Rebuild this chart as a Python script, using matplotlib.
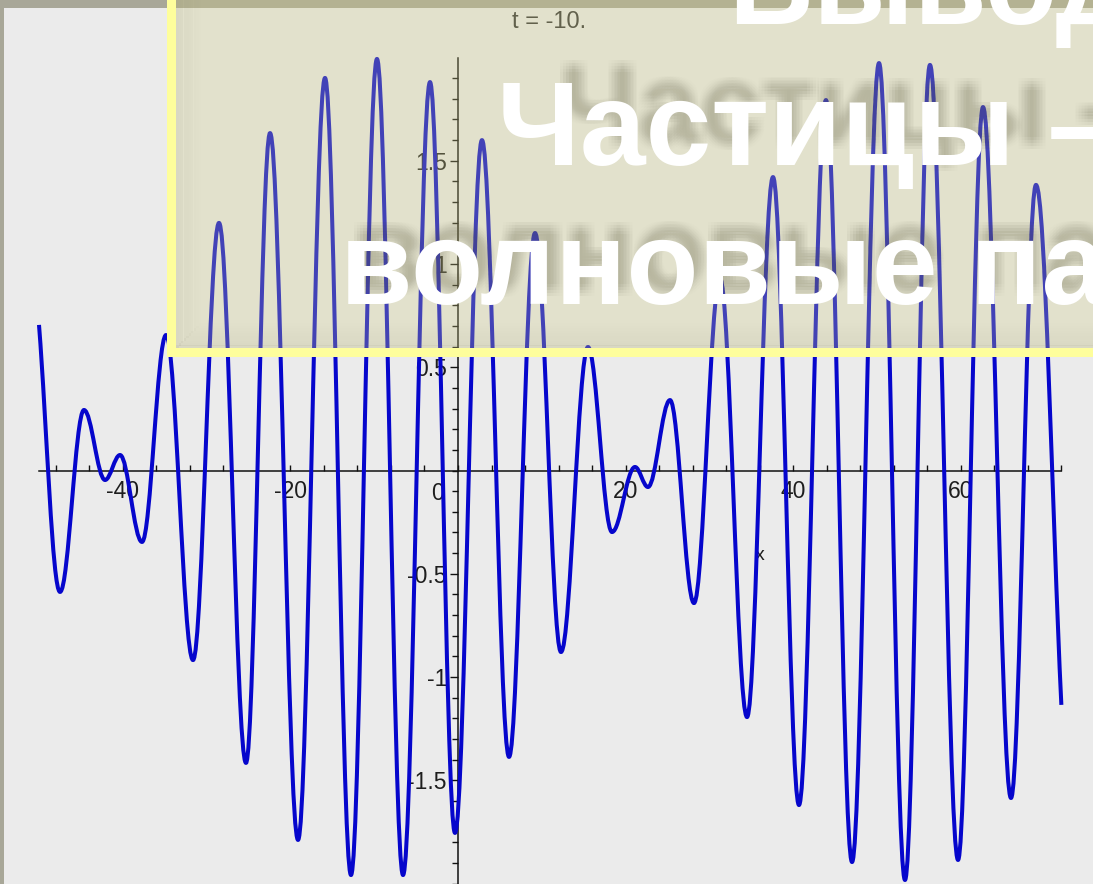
import matplotlib.pyplot as plt
from matplotlib.path import Path
from matplotlib.patches import PathPatch, Rectangle
from matplotlib.ticker import FixedLocator, FixedFormatter, NullFormatter

W, H = 1093, 884

# wave packet at t = -10: turning points (x, y)
wave_x = [-50.0, -47.49, -44.63, -42.12, -40.33, -37.71, -34.84, -31.62, -28.52, -25.30,
          -22.43, -19.09, -15.87, -12.77, -9.67, -6.56, -3.34, -0.36, 2.86, 6.09,
          9.19, 12.29, 15.51, 18.38, 21.12, 22.67, 25.30, 28.16, 31.26, 34.49,
          37.59, 40.69, 43.91, 47.02, 50.24, 53.34, 56.32, 59.67, 62.65, 65.99,
          68.97, 72.0]
wave_y = [0.705, -0.588, 0.293, -0.046, 0.075, -0.346, 0.656, -0.918, 1.199, -1.416,
          1.634, -1.789, 1.901, -1.959, 1.993, -1.959, 1.881, -1.755, 1.600, -1.387,
          1.150, -0.879, 0.598, -0.298, 0.017, -0.080, 0.341, -0.642, 0.932, -1.194,
          1.421, -1.620, 1.794, -1.896, 1.973, -1.983, 1.964, -1.886, 1.760, -1.586,
          1.383, -1.135]

xticks_major = [-40, -20, 20, 40, 60]
xtick_labels = ['-40', '-20', '20', '40', '60']
xticks_minor = [-48, -44, -36, -32, -28, -24, -16, -12, -8, -4, 0, 4, 8, 12, 16,
                24, 28, 32, 36, 44, 48, 52, 56, 64, 68, 72]
yticks_major = [-1.5, -1, -0.5, 0.5, 1, 1.5]
ytick_labels = ['-1.5', '-1', '-0.5', '0.5', '1', '1.5']
yticks_minor = [v / 10 for v in range(-21, 20)]

plot_title = 't = -10.'
slide_lines = ['Выводы', 'Частицы –', 'волновые па']


def fx(px):
    return px / W


def fy(py):
    return 1 - py / H


fig = plt.figure(figsize=(W / 100, H / 100), dpi=100, facecolor='#A8A798')
ax = fig.add_axes([fx(4), 0, 1 - fx(4), 1 - 8 / H], facecolor='#EBEBEB')

# pixel mapping of the Maple plot: origin at (458, 470.5), 8.38 px per x, 206.5 px per y
ax.set_xlim((4 - 458) / 8.38, (W - 458) / 8.38)
ax.set_ylim((470.5 - H) / 206.5, (470.5 - 8) / 206.5)

for s in ['top', 'right']:
    ax.spines[s].set_visible(False)
ax.spines['left'].set_position(('data', 0))
ax.spines['bottom'].set_position(('data', 0))
ax.spines['bottom'].set_bounds(-50, 72)
ax.spines['left'].set_bounds(-2.1, 2.0)
for s in ['left', 'bottom']:
    ax.spines[s].set_linewidth(1.1)
    ax.spines[s].set_color('#111111')

ax.xaxis.set_major_locator(FixedLocator(xticks_major))
ax.xaxis.set_major_formatter(FixedFormatter(xtick_labels))
ax.xaxis.set_minor_locator(FixedLocator(xticks_minor))
ax.xaxis.set_minor_formatter(NullFormatter())
ax.yaxis.set_major_locator(FixedLocator(yticks_major))
ax.yaxis.set_major_formatter(FixedFormatter(ytick_labels))
ax.yaxis.set_minor_locator(FixedLocator(yticks_minor))
ax.yaxis.set_minor_formatter(NullFormatter())

ax.tick_params(axis='x', which='both', direction='in', length=4, width=1,
               color='#111111', pad=7, labelsize=16.5, labelcolor='#1e1e1e')
ax.tick_params(axis='y', which='major', direction='out', length=6, width=1,
               color='#111111', pad=2, labelsize=16.5, labelcolor='#1e1e1e')
ax.tick_params(axis='y', which='minor', direction='out', length=4, width=1,
               color='#111111')
for lab in ax.get_xticklabels() + ax.get_yticklabels():
    lab.set_family('Liberation Sans')

ax.annotate('0', xy=(0, 0), xytext=(-21, -12), textcoords='offset pixels',
            ha='center', va='top', fontsize=16.5, color='#1e1e1e', family='Liberation Sans')
ax.annotate('x', xy=(0, 0), xytext=(302, -85), textcoords='offset pixels',
            ha='center', va='center', fontsize=14, color='#1e1e1e', family='Liberation Sans')
fig.text(fx(549), fy(22), plot_title, ha='center', va='center', fontsize=17,
         color='#333333', family='Liberation Sans', zorder=4)

# the curve: smooth pieces between turning points
k = 0.364
n = len(wave_x)
verts = [(wave_x[0], wave_y[0])]
codes = [Path.MOVETO]
for i in range(n - 1):
    x0, y0, x1, y1 = wave_x[i], wave_y[i], wave_x[i + 1], wave_y[i + 1]
    dx = x1 - x0
    c1 = (x0 + k * dx, y0) if i > 0 else (x0 + k * dx, y0 + k * (y1 - y0))
    c2 = (x1 - k * dx, y1) if i < n - 2 else (x1 - k * dx, y1 - k * (y1 - y0))
    verts += [c1, c2, (x1, y1)]
    codes += [Path.CURVE4] * 3
ax.add_patch(PathPatch(Path(verts, codes), fill=False, edgecolor='#0606CC',
                       lw=2.9, zorder=3, joinstyle='round'))

# slide title box on top of the plot
fig.add_artist(Rectangle((fx(176), fy(348)), 1, 1, transform=fig.transFigure,
                         facecolor='#D0CD87', alpha=0.3, lw=0, zorder=5))
for i in range(10):
    a = 0.07 * (1 - i / 10)
    fig.add_artist(Rectangle((fx(176 + 2.5 * i), fy(348 - 2.5 * i)), 2.5 / W, 1,
                             transform=fig.transFigure, facecolor='#6e6c55',
                             alpha=a, lw=0, zorder=5))
    fig.add_artist(Rectangle((fx(176 + 2.5 * i), fy(348 - 2.5 * i)), 1, 2.5 / H,
                             transform=fig.transFigure, facecolor='#6e6c55',
                             alpha=a, lw=0, zorder=5))
fig.add_artist(Rectangle((fx(167), fy(357)), 9 / W, 1, transform=fig.transFigure,
                         facecolor='#FEFE9C', lw=0, zorder=6))
fig.add_artist(Rectangle((fx(167), fy(357)), 1, 9 / H, transform=fig.transFigure,
                         facecolor='#FEFE9C', lw=0, zorder=6))

# blurred shadows, then the white title text
shadows = [(slide_lines[1], 560, 143, 80), (slide_lines[2], 352, 290, 84)]
for txt, x0, y0, size in shadows:
    for ox in (-6, -3, 0, 3, 6):
        for oy in (-6, -3, 0, 3, 6):
            fig.text(fx(x0 + ox), fy(y0 + oy), txt, fontsize=size, fontweight='bold',
                     family='Liberation Sans', color='#6a684f', alpha=0.013,
                     ha='left', va='baseline', zorder=7)

for txt, x0, y0 in zip(slide_lines, [728, 497, 340], [24, 165, 304]):
    fig.text(fx(x0), fy(y0), txt, fontsize=85, fontweight='bold',
             family='Liberation Sans', color='white', ha='left', va='baseline', zorder=8)

fig.savefig('out.png', dpi=100, facecolor=fig.get_facecolor())
